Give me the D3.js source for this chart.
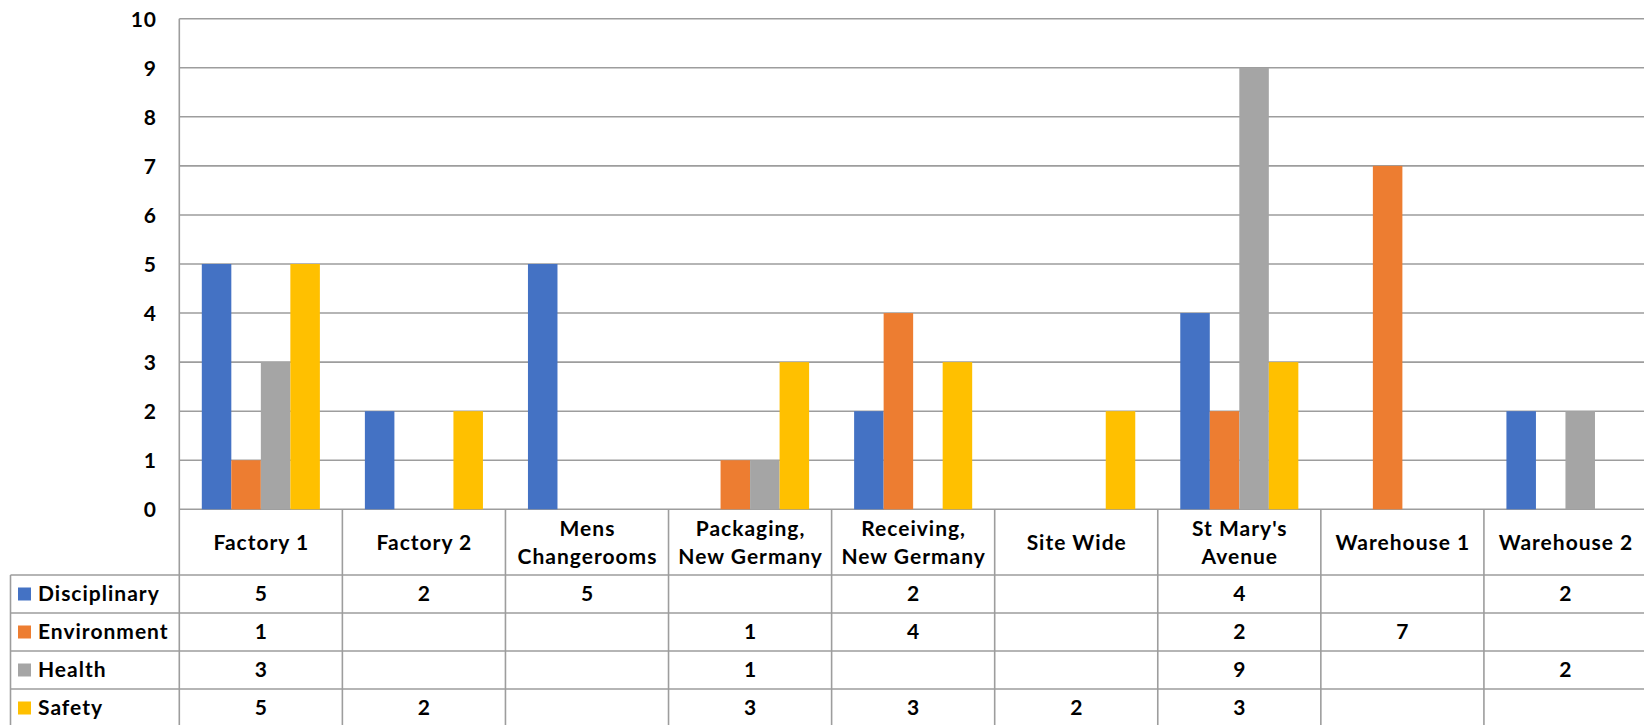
<!DOCTYPE html>
<html>
<head>
<meta charset="utf-8">
<script src="https://cdn.jsdelivr.net/npm/d3@7"></script>
<style>
  html, body { margin: 0; padding: 0; background: #fff; }
  svg text { font-family: Lato, "Open Sans", sans-serif; font-weight: 700; fill: #000; }
</style>
</head>
<body>
<svg id="chart" width="1644" height="725"></svg>
<script>
const categories = ["Factory 1", "Factory 2", "Mens Changerooms", "Packaging, New Germany", "Receiving, New Germany", "Site Wide", "St Mary's Avenue", "Warehouse 1", "Warehouse 2"];
const categoryLines = [["Factory 1"], ["Factory 2"], ["Mens", "Changerooms"], ["Packaging,", "New Germany"], ["Receiving,", "New Germany"], ["Site Wide"], ["St Mary's", "Avenue"], ["Warehouse 1"], ["Warehouse 2"]];
const seriesNames = ["Disciplinary", "Environment", "Health", "Safety"];
const disciplinary = [5, 2, 5, null, 2, null, 4, null, 2];
const environment = [1, null, null, 1, 4, null, 2, 7, null];
const health = [3, null, null, 1, null, null, 9, null, 2];
const safety = [5, 2, null, 3, 3, 2, 3, null, null];
const yTicks = [0, 1, 2, 3, 4, 5, 6, 7, 8, 9, 10];
const colors = ["#4472C4", "#ED7D31", "#A5A5A5", "#FFC000"];

const seriesValues = [disciplinary, environment, health, safety];

const svg = d3.select("#chart");
const plotLeft = 179.3, plotRight = 1647, plotTop = 18.7, plotBottom = 509.3;
const headerBottom = 575, rowH = 38, tableLeft = 10.5;
const gridColor = "#9d9d9d";
const fs = 21, ls = 1;

const x = d3.scaleBand().domain(categories).range([plotLeft, plotRight]).padding(0);
const bw = x.bandwidth();
const groupPad = bw * 0.138;
const x1 = d3.scaleBand().domain(seriesNames).range([groupPad, bw - groupPad]).padding(0);
const y = d3.scaleLinear().domain([0, 10]).range([plotBottom, plotTop]);
const color = d3.scaleOrdinal().domain(seriesNames).range(colors);

// gridlines
svg.append("g").selectAll("line").data(yTicks).join("line")
  .attr("x1", plotLeft).attr("x2", plotRight)
  .attr("y1", d => y(d)).attr("y2", d => y(d))
  .attr("stroke", gridColor).attr("stroke-width", 1.6);

// y tick labels via axis
const yAxis = d3.axisLeft(y).tickValues(yTicks).tickSize(0).tickPadding(0).tickFormat(d3.format("d"));
const yg = svg.append("g").attr("transform", `translate(157,0)`).call(yAxis);
yg.select(".domain").remove();
yg.selectAll("text").attr("font-size", fs).attr("font-family", "Lato, sans-serif").attr("font-weight", 700)
  .attr("fill", "#000").attr("dy", "0.35em").attr("letter-spacing", ls);

// bars
const barData = [];
categories.forEach((c, i) => {
  seriesNames.forEach((s, j) => {
    const v = seriesValues[j][i];
    if (v != null) barData.push({ c, s, v });
  });
});
svg.append("g").selectAll("rect").data(barData).join("rect")
  .attr("x", d => x(d.c) + x1(d.s))
  .attr("width", x1.bandwidth())
  .attr("y", d => y(d.v))
  .attr("height", d => y(0) - y(d.v))
  .attr("fill", d => color(d.s));

// table lines
const tableBottom = headerBottom + rowH * 4;
const tl = svg.append("g").attr("stroke", gridColor).attr("stroke-width", 1.6);
tl.append("line").attr("x1", plotLeft).attr("x2", plotLeft).attr("y1", plotTop).attr("y2", tableBottom + 5);
tl.selectAll("line.sep").data(categories.slice(1).concat(["__end"])).join("line").attr("class", "sep")
  .attr("x1", (d, i) => plotLeft + bw * (i + 1)).attr("x2", (d, i) => plotLeft + bw * (i + 1))
  .attr("y1", plotBottom).attr("y2", tableBottom + 5);
tl.append("line").attr("x1", tableLeft).attr("x2", tableLeft).attr("y1", headerBottom).attr("y2", tableBottom + 5);
tl.selectAll("line.row").data([0, 1, 2, 3, 4]).join("line").attr("class", "row")
  .attr("x1", tableLeft).attr("x2", plotRight)
  .attr("y1", d => headerBottom + rowH * d).attr("y2", d => headerBottom + rowH * d);

// category labels
const catG = svg.append("g");
categories.forEach((c, i) => {
  const lines = categoryLines[i];
  const cx = x(c) + bw / 2 + ls / 2;
  const cy = (plotBottom + headerBottom) / 2;
  const lh = 28;
  lines.forEach((ln, k) => {
    catG.append("text")
      .attr("x", cx)
      .attr("y", cy + (k - (lines.length - 1) / 2) * lh)
      .attr("dy", "0.35em")
      .attr("text-anchor", "middle")
      .attr("font-size", fs).attr("letter-spacing", ls)
      .text(ln);
  });
});

// legend rows + values
seriesNames.forEach((s, j) => {
  const rowY = headerBottom + rowH * j;
  const cy = rowY + rowH / 2;
  svg.append("rect").attr("x", 18).attr("y", cy - 6.5).attr("width", 13).attr("height", 13).attr("fill", color(s));
  svg.append("text").attr("x", 38).attr("y", cy).attr("dy", "0.35em").attr("font-size", fs).attr("letter-spacing", ls).text(s);
  categories.forEach((c, i) => {
    const v = seriesValues[j][i];
    if (v == null) return;
    svg.append("text").attr("x", x(c) + bw / 2 + ls / 2).attr("y", cy).attr("dy", "0.35em")
      .attr("text-anchor", "middle").attr("font-size", fs).attr("letter-spacing", ls).text(v);
  });
});
</script>
</body>
</html>
